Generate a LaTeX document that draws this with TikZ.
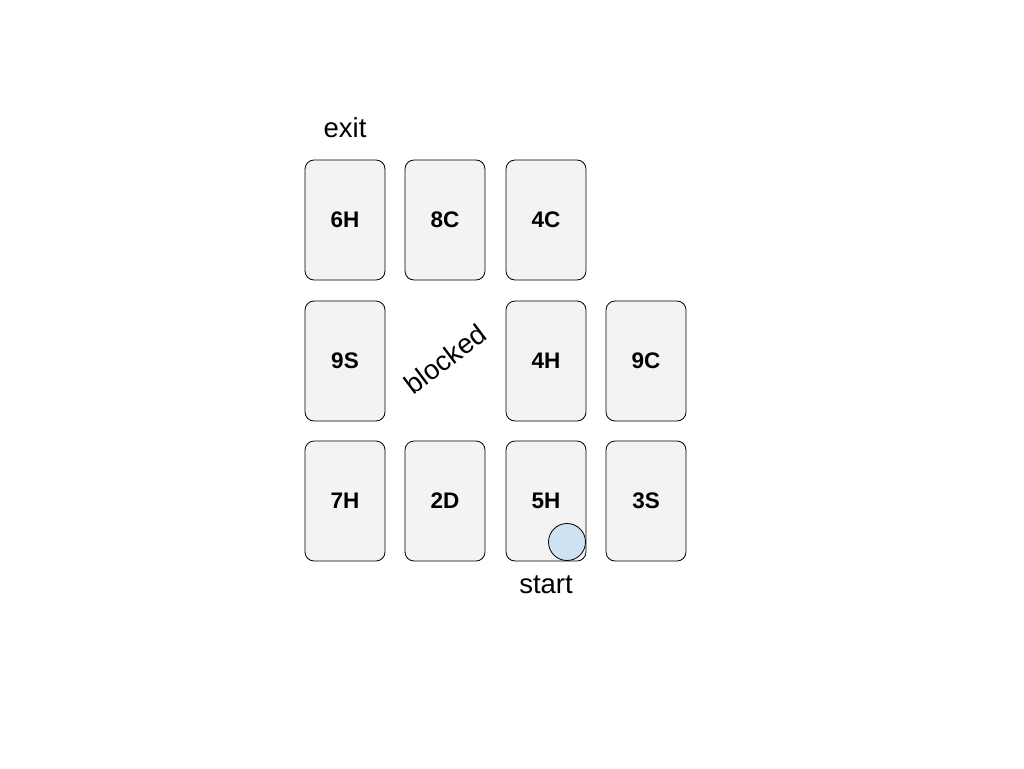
\documentclass[tikz,border=0pt]{standalone}
\usepackage{fontspec}
\setmainfont{Liberation Sans}
\usepackage{tikz}
\usetikzlibrary{shapes,arrows,positioning,fit,calc}

\definecolor{cardgray}{HTML}{F3F3F3}
\definecolor{tokenblue}{HTML}{CFE2F3}

\begin{document}
\begin{tikzpicture}[x=1pt,y=-1pt,
        card/.style={draw,fill=cardgray,rounded corners=9pt,line width=0.8pt,
            minimum width=80pt,minimum height=120pt,inner sep=0pt,
            font=\fontsize{22.5}{26}\selectfont\bfseries},
        tag/.style={font=\fontsize{27.5}{32}\selectfont}]
            \useasboundingbox (0,0) rectangle (1024,768);
            \foreach \name/\x/\y in {6H/345/220, 8C/445/220, 4C/546/220,
                9S/345/361, 4H/546/361, 9C/646/361,
                7H/345/501, 2D/445/501, 5H/546/501, 3S/646/501} {
                \node[card] (c\name) at (\x,\y) {\name};
            }
            \node[tag] (exit) at (345,128) {exit};
            \node[tag] (start) at (546,585) {start};
            \node[tag,rotate=37] (blocked) at (445,359) {blocked};
            \node[draw,circle,fill=tokenblue,line width=0.8pt,minimum size=37pt,inner sep=0pt] (token) at (567,542) {};
        \end{tikzpicture}
\end{document}
